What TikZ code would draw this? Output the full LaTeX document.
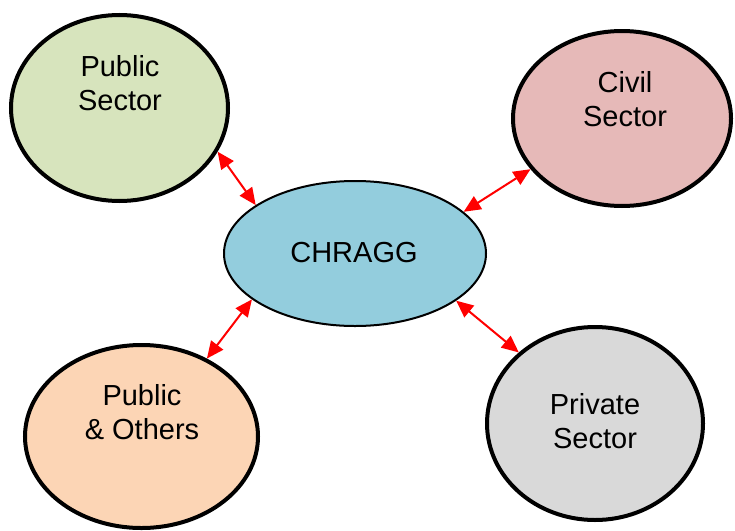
\documentclass[tikz,border=0pt]{standalone}
\usepackage{fontspec}
\setmainfont{Liberation Sans}
\usetikzlibrary{shapes.geometric,arrows.meta}
\definecolor{psfill}{HTML}{D7E4BD}
\definecolor{csfill}{HTML}{E6B9B8}
\definecolor{chfill}{HTML}{93CDDD}
\definecolor{pofill}{HTML}{FCD5B5}
\definecolor{prfill}{HTML}{D9D9D9}
\definecolor{arrred}{HTML}{FF0000}
\tikzset{
  blob/.style={ellipse, draw=black, line width=4pt, inner sep=0pt},
  hub/.style={ellipse, draw=black, line width=2pt, inner sep=0pt},
  lbl/.style={anchor=base, align=center, inner sep=0pt, font=\fontsize{29}{34}\selectfont},
  link/.style={draw=arrred, line width=2pt, {Triangle[length=17pt,width=15pt]}-{Triangle[length=17pt,width=15pt]}}
}
\begin{document}
\begin{tikzpicture}[x=1pt,y=-1pt]
\useasboundingbox (0,0) rectangle (735,530);
\node[blob, fill=psfill, minimum width=217pt, minimum height=186pt] (ps) at (119.5,108) {};
\node[blob, fill=csfill, minimum width=218pt, minimum height=175pt] (cs) at (622,118.5) {};
\node[hub, fill=chfill, minimum width=262pt, minimum height=145pt] (ch) at (355,253.5) {};
\node[blob, fill=pofill, minimum width=233pt, minimum height=183pt] (po) at (141.5,436.5) {};
\node[blob, fill=prfill, minimum width=216pt, minimum height=193pt] (pr) at (595,423.5) {};
\node[lbl] (tps) at (120,110) {Public\\Sector};
\node[lbl] (tcs) at (625,126) {Civil\\Sector};
\node[lbl] (tch) at (354,262) {CHRAGG};
\node[lbl] (tpo) at (142,439) {Public\\\& Others};
\node[lbl] (tpr) at (595,448) {Private\\Sector};
\draw[link] (ps.-24.3) -- (ch.154.1);
\draw[link] (ch.21.1) -- (cs.209.9);
\draw[link] (ch.204.8) -- (po.50.2);
\draw[link] (ch.-25.6) -- (pr.137.5);
\end{tikzpicture}
\end{document}
